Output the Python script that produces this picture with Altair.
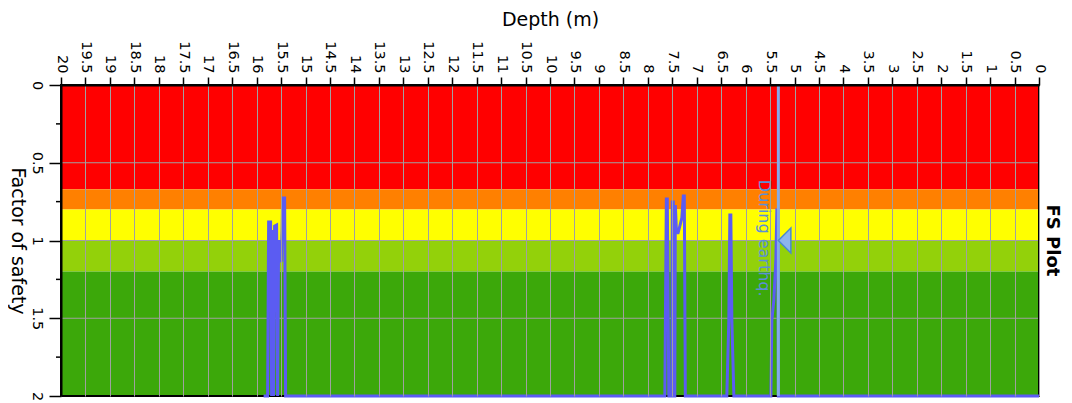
import altair as alt
import pandas as pd

# ---- factor of safety profile (depth in m, FS capped at 2) ----
depth = [0.0, 5.299, 5.330, 5.340, 5.361, 5.381, 5.422, 5.463, 5.483,
         6.240, 6.281, 6.302, 6.322, 6.343, 6.384,
         7.233, 7.253, 7.274, 7.304, 7.345, 7.386, 7.417, 7.437, 7.448,
         7.468, 7.478, 7.499, 7.509, 7.570, 7.601, 7.621, 7.652,
         15.407, 15.427, 15.468, 15.478, 15.498, 15.529, 15.550, 15.570,
         15.591, 15.632, 15.652, 15.673, 15.693, 15.714, 15.754, 15.775, 15.857]
fs = [2.0, 2.0, 2.0, 0.804, 0.804, 1.12, 1.383, 1.511, 2.0,
      2.0, 1.511, 0.836, 0.836, 1.511, 2.0,
      2.0, 0.714, 0.714, 0.855, 0.907, 0.958, 0.920, 0.772, 2.0,
      2.0, 0.752, 0.752, 2.0, 2.0, 0.733, 0.733, 2.0,
      2.0, 0.727, 0.727, 0.932, 1.138, 1.113, 0.997, 2.0,
      0.900, 0.907, 2.0, 0.932, 2.0, 0.881, 0.881, 2.0, 2.0]

# ---- FS colour bands ----
band_lo = [0.0, 0.67, 0.8, 1.0, 1.2]
band_hi = [0.67, 0.8, 1.0, 1.2, 2.0]
band_colors = ["#ff0000", "#ff8000", "#ffff00", "#93d10a", "#3ca80a"]
depth_min, depth_max = 0.0, 20.0
fs_min, fs_max = 0.0, 2.0

# ---- axes ----
depth_ticks = [i * 0.5 for i in range(41)]
fs_ticks = [0.0, 0.5, 1.0, 1.5, 2.0]
fs_grid = [0.5, 1.0, 1.5]
fs_minor = [0.25, 0.75, 1.25, 1.75]

# ---- "During earthq." marker ----
gwt_depth = 5.33
gwt_fs = 1.0
label_text = "During earthq."
label_depth = 5.63
label_fs = 0.61

FONT = "DejaVu Sans"
W, H = 978, 311

xscale = alt.Scale(domain=[depth_min, depth_max], reverse=True, nice=False, zero=False)
yscale = alt.Scale(domain=[fs_min, fs_max], reverse=True, nice=False, zero=False)

xaxis = alt.Axis(orient="top", values=depth_ticks, format="~f", labelAngle=90,
                 labelAlign="right", labelBaseline="middle", labelFontSize=14.5,
                 labelFont=FONT, labelColor="black", labelPadding=4, labelOverlap=False,
                 labelFlush=False, tickSize=8, tickColor="black", tickWidth=1.5,
                 domainColor="black", domainWidth=2, grid=True, gridColor="#a0a0a0",
                 gridWidth=1, title="Depth (m)", titleFont=FONT, titleFontSize=19,
                 titleFontWeight="normal", titleColor="black", titleX=W / 2, titleY=-66,
                 titleAlign="center", titleBaseline="middle", zindex=1)
yaxis = alt.Axis(orient="left", values=fs_ticks, format="~f", labelAngle=90,
                 labelAlign="center", labelBaseline="top", labelFontSize=14.5,
                 labelFont=FONT, labelColor="black", labelPadding=6, labelOverlap=False,
                 labelFlush=False, tickSize=12, tickColor="black", tickWidth=1.5,
                 domainColor="black", domainWidth=2, grid=False,
                 title="Factor of safety", titleFont=FONT, titleFontSize=19,
                 titleFontWeight="normal", titleColor="black", titleAngle=90,
                 titleX=-44, titleY=H / 2, titleAlign="center", titleBaseline="middle",
                 zindex=1)


def X(field):
    return alt.X(field, type="quantitative", scale=xscale, axis=xaxis)


def Y(field):
    return alt.Y(field, type="quantitative", scale=yscale, axis=yaxis)


bands_df = pd.DataFrame({"lo": band_lo, "hi": band_hi, "color": band_colors,
                         "d0": depth_min, "d1": depth_max})
bands = alt.Chart(bands_df).mark_rect().encode(
    x=X("d0"), x2="d1:Q", y=Y("lo"), y2="hi:Q",
    color=alt.Color("color:N", scale=None),
)

grid_df = pd.DataFrame({"fs": fs_grid})
hgrid = alt.Chart(grid_df).mark_rule(color="#a0a0a0", strokeWidth=1).encode(
    y=Y("fs"),
)

frame_df = pd.DataFrame({"d0": [depth_min], "d1": [depth_max], "lo": [fs_min], "hi": [fs_max]})
frame = alt.Chart(frame_df).mark_rect(fillOpacity=0, stroke="black", strokeWidth=2).encode(
    x=X("d0"), x2="d1:Q", y=Y("lo"), y2="hi:Q",
)

minor_df = pd.DataFrame({"fs": fs_minor})
minor = alt.Chart(minor_df).mark_rule(color="black", strokeWidth=1.5).encode(
    y=Y("fs"), x=alt.value(-5), x2=alt.value(0),
)

line_df = pd.DataFrame({"depth": depth, "fs": fs})
line = alt.Chart(line_df).mark_line(color="#5b5cf2", strokeWidth=3).encode(
    x=X("depth"), y=Y("fs"),
)

gwt_df = pd.DataFrame({"depth": [gwt_depth], "fs": [gwt_fs]})
gwt_rule = alt.Chart(gwt_df).mark_rule(color="#82abe9", strokeWidth=3).encode(
    x=X("depth"),
)
gwt_tri = alt.Chart(gwt_df).mark_point(
    shape="M 0 0 L 1 -1 L 1 1 Z", size=625, filled=True, fill="#8cb5ec",
    stroke="#4a88d0", strokeWidth=1.5, opacity=1,
).encode(x=X("depth"), y=Y("fs"))

label_df = pd.DataFrame({"depth": [label_depth], "fs": [label_fs], "text": [label_text]})
label = alt.Chart(label_df).mark_text(
    angle=90, align="left", baseline="middle", fontSize=16, font=FONT, color="#5b8fd6",
).encode(x=X("depth"), y=Y("fs"), text="text:N")

chart = alt.layer(bands, hgrid, frame, minor, line, gwt_rule, gwt_tri, label).properties(
    width=W, height=H,
    title=alt.TitleParams("FS Plot", orient="right", anchor="middle", angle=90,
                          font=FONT, fontSize=18, fontWeight="bold", color="black",
                          offset=-4),
    autosize=alt.AutoSizeParams(type="none"),
    padding={"left": 53, "top": 77, "right": 25, "bottom": 5},
    background="white",
).configure_view(stroke=None)

chart.save("out.html", embed_options={"renderer": "svg", "actions": False})
